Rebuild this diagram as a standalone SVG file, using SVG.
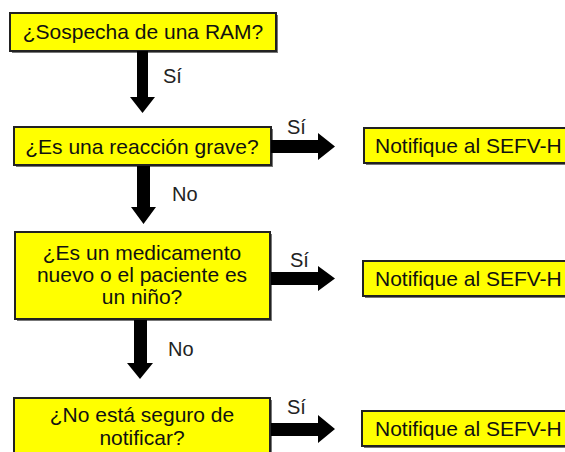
<svg xmlns="http://www.w3.org/2000/svg" width="565" height="452" viewBox="0 0 565 452">
<defs>
<style>
.box{fill:#FFFF00;stroke:#222;stroke-width:2}
.sh{fill:#777}
.t{font-family:"Liberation Sans",Arial,sans-serif;font-size:21px;fill:#111;text-anchor:middle}
.l{font-family:"Liberation Sans",Arial,sans-serif;font-size:20px;fill:#222}
.n{font-family:"Liberation Sans",Arial,sans-serif;font-size:21px;fill:#111}
.arr{fill:#000}
</style>
</defs>
<rect width="565" height="452" fill="#fff"/>
<g id="q1">
<rect class="sh" x="12" y="15" width="266" height="38"/>
<rect class="box" x="10" y="13" width="266" height="38"/>
<text class="t" x="143" y="39">¿Sospecha de una RAM?</text>
</g>
<g id="q2">
<rect class="sh" x="16" y="129" width="257" height="38"/>
<rect class="box" x="14" y="127" width="257" height="38"/>
<text class="t" x="142" y="154">¿Es una reacción grave?</text>
</g>
<g id="q3">
<rect class="sh" x="17" y="234" width="255" height="87"/>
<rect class="box" x="15" y="232" width="255" height="87"/>
<text class="t" x="142" y="260">¿Es un medicamento</text>
<text class="t" x="142" y="282">nuevo o el paciente es</text>
<text class="t" x="142" y="304">un niño?</text>
</g>
<g id="q4">
<rect class="sh" x="16" y="400" width="256" height="60"/>
<rect class="box" x="14" y="398" width="256" height="60"/>
<text class="t" x="142" y="422">¿No está seguro de</text>
<text class="t" x="142" y="445">notificar?</text>
</g>
<g id="n2">
<rect class="sh" x="366" y="130" width="210" height="35"/>
<rect class="box" x="364" y="128" width="210" height="35"/>
<text class="n" x="375" y="153">Notifique al SEFV-H</text>
</g>
<g id="n3">
<rect class="sh" x="365" y="263" width="210" height="35"/>
<rect class="box" x="363" y="261" width="210" height="35"/>
<text class="n" x="375" y="286">Notifique al SEFV-H</text>
</g>
<g id="n4">
<rect class="sh" x="364" y="413" width="210" height="35"/>
<rect class="box" x="362" y="411" width="210" height="35"/>
<text class="n" x="375" y="436">Notifique al SEFV-H</text>
</g>
<g id="connectors">
<polygon class="arr" points="137,51 148,51 148,97 155,97 142.5,113 130,97 137,97"/>
<polygon class="arr" points="137,166 150,166 150,207 156,207 143.5,224 131,207 137,207"/>
<polygon class="arr" points="134,320 147,320 147,363 153,363 140,379 127,363 134,363"/>
<polygon class="arr" points="271,140 318,140 318,133 335,146.5 318,160 318,153 271,153"/>
<polygon class="arr" points="271,272 318,272 318,266 335,278.5 318,291 318,285 271,285"/>
<polygon class="arr" points="271,423 318,423 318,415 335,429 318,443 318,436 271,436"/>
<text class="l" x="163" y="83">Sí</text>
<text class="l" x="172" y="201">No</text>
<text class="l" x="168" y="356">No</text>
<text class="l" x="287" y="134">Sí</text>
<text class="l" x="290" y="267">Sí</text>
<text class="l" x="287" y="414">Sí</text>
</g>
</svg>
